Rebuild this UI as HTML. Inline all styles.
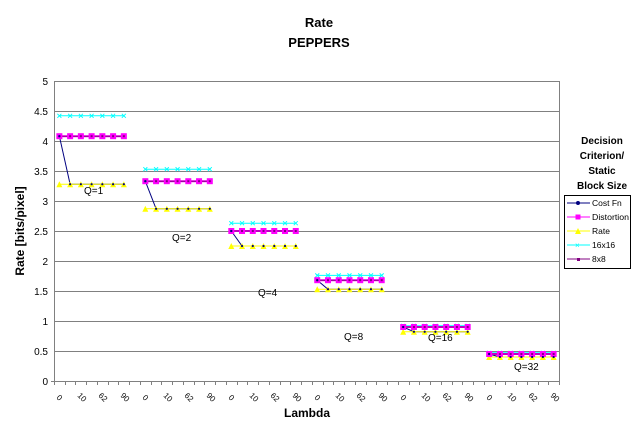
<!DOCTYPE html>
<html><head><meta charset="utf-8"><style>
html,body{margin:0;padding:0;background:#fff;}
svg{display:block;font-family:"Liberation Sans",Arial,sans-serif;}
</style></head><body>
<svg id="s" width="639" height="436" viewBox="0 0 639 436" xmlns="http://www.w3.org/2000/svg">
<rect width="639" height="436" fill="#fff"/>
<text x="319" y="27" font-size="13" font-weight="bold" text-anchor="middle">Rate</text>
<text x="319" y="47" font-size="13" font-weight="bold" text-anchor="middle">PEPPERS</text>
<g stroke="#808080" stroke-width="1">
<line x1="54" x2="559" y1="81.5" y2="81.5"/><line x1="54" x2="559" y1="111.5" y2="111.5"/>
<line x1="54" x2="559" y1="141.5" y2="141.5"/><line x1="54" x2="559" y1="171.5" y2="171.5"/>
<line x1="54" x2="559" y1="201.5" y2="201.5"/><line x1="54" x2="559" y1="231.5" y2="231.5"/>
<line x1="54" x2="559" y1="261.5" y2="261.5"/><line x1="54" x2="559" y1="291.5" y2="291.5"/>
<line x1="54" x2="559" y1="321.5" y2="321.5"/><line x1="54" x2="559" y1="351.5" y2="351.5"/>
<line x1="559.5" x2="559.5" y1="81" y2="381"/>
</g>
<line x1="54.5" x2="54.5" y1="81" y2="384" stroke="#808080"/>
<line x1="51" x2="559" y1="381.5" y2="381.5" stroke="#808080"/>
<g font-size="10" text-anchor="end">
<text x="48" y="85">5</text><text x="48" y="115">4.5</text><text x="48" y="145">4</text>
<text x="48" y="175">3.5</text><text x="48" y="205">3</text><text x="48" y="235">2.5</text>
<text x="48" y="265">2</text><text x="48" y="295">1.5</text><text x="48" y="325">1</text>
<text x="48" y="355">0.5</text><text x="48" y="385">0</text>
</g>
<text transform="translate(24,231) rotate(-90)" font-size="12" font-weight="bold" text-anchor="middle">Rate [bits/pixel]</text>
<text x="307" y="417" font-size="12" font-weight="bold" text-anchor="middle">Lambda</text>
<g id="ticks" stroke="#808080"></g>
<g font-size="8" id="xl">
<text transform="translate(56,398) rotate(45)">0</text><text transform="translate(77,396) rotate(45)">10</text><text transform="translate(98,396) rotate(45)">62</text><text transform="translate(120,396) rotate(45)">90</text>
<text transform="translate(142,398) rotate(45)">0</text><text transform="translate(163,396) rotate(45)">10</text><text transform="translate(184,396) rotate(45)">62</text><text transform="translate(206,396) rotate(45)">90</text>
<text transform="translate(228,398) rotate(45)">0</text><text transform="translate(249,396) rotate(45)">10</text><text transform="translate(270,396) rotate(45)">62</text><text transform="translate(292,396) rotate(45)">90</text>
<text transform="translate(314,398) rotate(45)">0</text><text transform="translate(335,396) rotate(45)">10</text><text transform="translate(356,396) rotate(45)">62</text><text transform="translate(378,396) rotate(45)">90</text>
<text transform="translate(400,398) rotate(45)">0</text><text transform="translate(421,396) rotate(45)">10</text><text transform="translate(442,396) rotate(45)">62</text><text transform="translate(464,396) rotate(45)">90</text>
<text transform="translate(486,398) rotate(45)">0</text><text transform="translate(507,396) rotate(45)">10</text><text transform="translate(528,396) rotate(45)">62</text><text transform="translate(550,396) rotate(45)">90</text>
</g>
<g id="series"></g>
<g font-size="10" fill="#000">
<text x="84" y="194">Q=1</text><text x="172" y="241">Q=2</text><text x="258" y="296">Q=4</text>
<text x="344" y="340">Q=8</text><text x="428" y="341">Q=16</text><text x="514" y="370">Q=32</text>
</g>
<g font-size="10" font-weight="bold" text-anchor="middle">
<text x="602" y="144">Decision</text><text x="602" y="159">Criterion/</text>
<text x="602" y="174">Static</text><text x="602" y="189">Block Size</text>
</g>
<rect x="564.5" y="195.5" width="66" height="73" fill="#fff" stroke="#000"/>
<g font-size="8.5">
<line x1="567" x2="590" y1="203" y2="203" stroke="#000080"/><circle cx="578" cy="203" r="2" fill="#000080"/><text x="592" y="206">Cost Fn</text>
<line x1="567" x2="590" y1="217" y2="217" stroke="#ff00ff"/><rect x="575.5" y="214.5" width="5" height="5" fill="#ff00ff"/><text x="592" y="220" textLength="37" lengthAdjust="spacingAndGlyphs">Distortion</text>
<line x1="567" x2="590" y1="231" y2="231" stroke="#ffff00"/><path d="M575 234L578 228L581 234Z" fill="#ffff00"/><text x="592" y="234">Rate</text>
<line x1="567" x2="590" y1="245" y2="245" stroke="#00ffff"/><text x="575" y="248" font-size="8" fill="#00ffff">×</text><text x="592" y="248">16x16</text>
<line x1="567" x2="590" y1="259" y2="259" stroke="#800080"/><rect x="577" y="258" width="3" height="3" fill="#800080"/><text x="592" y="262">8x8</text>
</g>
<script>
(function(){
var NS="http://www.w3.org/2000/svg",x0=54,w=505/47;
function X(i){return x0+w*(i+0.5);}function Y(v){return 381-60*v;}
var tk=document.getElementById('ticks');
for(var i=0;i<=47;i++){var l=document.createElementNS(NS,'line');var xx=Math.round(x0+w*i)+0.5;l.setAttribute('x1',xx);l.setAttribute('x2',xx);l.setAttribute('y1',381);l.setAttribute('y2',385);tk.appendChild(l);}
var g=document.getElementById('series');
var data=[[4.42,4.08,3.28],[3.53,3.33,2.87],[2.63,2.5,2.25],[1.76,1.68,1.53],[0.92,0.90,0.82],[0.47,0.45,0.40]];
function line(pts,c,sw){var p=document.createElementNS(NS,'polyline');p.setAttribute('points',pts.map(function(q){return q.join(',')}).join(' '));p.setAttribute('fill','none');p.setAttribute('stroke',c);p.setAttribute('stroke-width',sw||1);g.appendChild(p);}
function el(t,a){var e=document.createElementNS(NS,t);for(var k in a)e.setAttribute(k,a[k]);g.appendChild(e);}
data.forEach(function(d,gi){
 var s=gi*8,c=[],dd=[],r=[],cf=[];
 for(var j=0;j<7;j++){var x=X(s+j);c.push([x,Y(d[0])]);dd.push([x,Y(d[1])]);r.push([x,Y(d[2])]);cf.push([x,j==0?Y(d[1]):Y(d[2])]);}
 line(c,'#00ffff');
 c.forEach(function(p){el('path',{d:'M'+(p[0]-2)+' '+(p[1]-2)+'L'+(p[0]+2)+' '+(p[1]+2)+'M'+(p[0]-2)+' '+(p[1]+2)+'L'+(p[0]+2)+' '+(p[1]-2),stroke:'#00ffff'});});
 line(cf,'#000080');
 line(r,'#ffff00');
 r.forEach(function(p){el('path',{d:'M'+(p[0]-3)+' '+(p[1]+3)+'L'+p[0]+' '+(p[1]-3)+'L'+(p[0]+3)+' '+(p[1]+3)+'Z',fill:'#ffff00'});});
 line(dd,'#ff00ff',2);line(dd,'#800080');
 dd.forEach(function(p){el('rect',{x:p[0]-3,y:p[1]-3,width:6,height:6,fill:'#ff00ff'});el('rect',{x:p[0]-1,y:p[1]-1,width:2,height:2,fill:'#800080'});});
 cf.forEach(function(p){el('circle',{cx:p[0],cy:p[1],r:1.1,fill:'#000080'});});
});
})();
</script>
</svg>
</body></html>
